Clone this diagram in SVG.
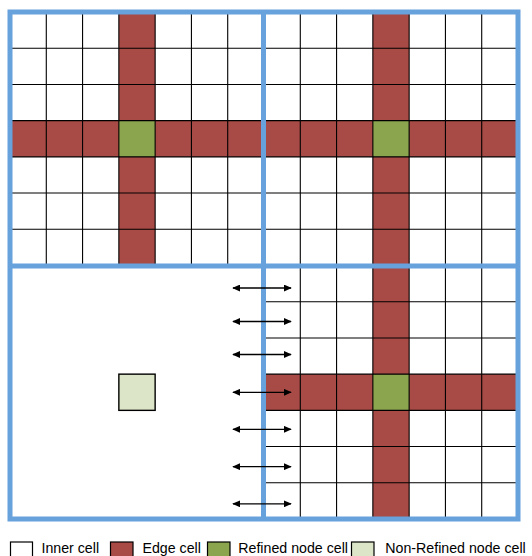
<svg xmlns="http://www.w3.org/2000/svg" width="532" height="556" viewBox="0 0 532 556">
<style>
.edge{fill:#A84B46}
.node{fill:#8BA54E}
.nrnode{fill:#DCE5C7;stroke:#000;stroke-width:1.4}
.grid{fill:none;stroke:#000;stroke-width:1.1}
.blue{fill:none;stroke:#67A2DC;stroke-width:5}
.arr{stroke:#000;stroke-width:1.3;fill:none;marker-start:url(#ah);marker-end:url(#ah)}
.lbox{stroke:#000;stroke-width:1.2}
.ltxt{font-family:"Liberation Sans",Arial,sans-serif;font-size:14.2px;fill:#000}
</style>
<defs>
<marker id="ah" viewBox="0 0 10 10" refX="9" refY="5" markerWidth="8" markerHeight="7" markerUnits="userSpaceOnUse" orient="auto-start-reverse" preserveAspectRatio="none">
<path d="M0,0 L10,5 L0,10 z" fill="#000"/>
</marker>
</defs>
<rect x="0" y="0" width="532" height="556" fill="#fff"/>

<g id="quadrant-top-left">
<rect class="edge" x="118.86" y="12" width="36.28" height="253.5"/>
<rect class="edge" x="10" y="120.64" width="254" height="36.22"/>
<rect class="node" x="118.86" y="120.64" width="36.28" height="36.22"/>
<path class="grid" d="M46.29,12V265.5M82.57,12V265.5M118.86,12V265.5M155.14,12V265.5M191.43,12V265.5M227.71,12V265.5M10,48.21H264M10,84.43H264M10,120.64H264M10,156.86H264M10,193.07H264M10,229.29H264"/>
</g>

<g id="quadrant-top-right">
<rect class="edge" x="372.86" y="12" width="36.28" height="253.5"/>
<rect class="edge" x="264" y="120.64" width="254" height="36.22"/>
<rect class="node" x="372.86" y="120.64" width="36.28" height="36.22"/>
<path class="grid" d="M300.29,12V265.5M336.57,12V265.5M372.86,12V265.5M409.14,12V265.5M445.43,12V265.5M481.71,12V265.5M264,48.21H518M264,84.43H518M264,120.64H518M264,156.86H518M264,193.07H518M264,229.29H518"/>
</g>

<g id="quadrant-bottom-left">
<rect class="nrnode" x="118.86" y="374.14" width="36.28" height="36.22"/>
</g>

<g id="quadrant-bottom-right">
<rect class="edge" x="372.86" y="265.5" width="36.28" height="253.5"/>
<rect class="edge" x="264" y="374.14" width="254" height="36.22"/>
<rect class="node" x="372.86" y="374.14" width="36.28" height="36.22"/>
<path class="grid" d="M300.29,265.5V519M336.57,265.5V519M372.86,265.5V519M409.14,265.5V519M445.43,265.5V519M481.71,265.5V519M264,301.71H518M264,337.93H518M264,374.14H518M264,410.36H518M264,446.57H518M264,482.79H518"/>
</g>

<g id="borders">
<rect class="blue" x="10" y="12" width="508" height="507"/>
<path class="blue" d="M263.5,12V519M10,266H518"/>
</g>

<g id="connectors">
<path class="arr" d="M233,288H291"/>
<path class="arr" d="M233,321.5H291"/>
<path class="arr" d="M233,354.5H291"/>
<path class="arr" d="M233,392.3H291"/>
<path class="arr" d="M233,429.3H291"/>
<path class="arr" d="M233,466.7H291"/>
<path class="arr" d="M233,503.8H291"/>
</g>

<g id="legend">
<rect class="lbox" x="10.5" y="542" width="22" height="15" fill="#fff"/>
<text class="ltxt" x="41.5" y="553">Inner cell</text>
<rect class="lbox" x="110.5" y="542" width="22.5" height="15" fill="#A84B46"/>
<text class="ltxt" x="142.5" y="553">Edge cell</text>
<rect class="lbox" x="207.5" y="542" width="22.5" height="15" fill="#8BA54E"/>
<text class="ltxt" x="238.3" y="553">Refined node cell</text>
<rect class="lbox" x="351.5" y="542" width="22.5" height="15" fill="#DCE5C7"/>
<text class="ltxt" x="385.3" y="553">Non-Refined node cell</text>
</g>
</svg>
